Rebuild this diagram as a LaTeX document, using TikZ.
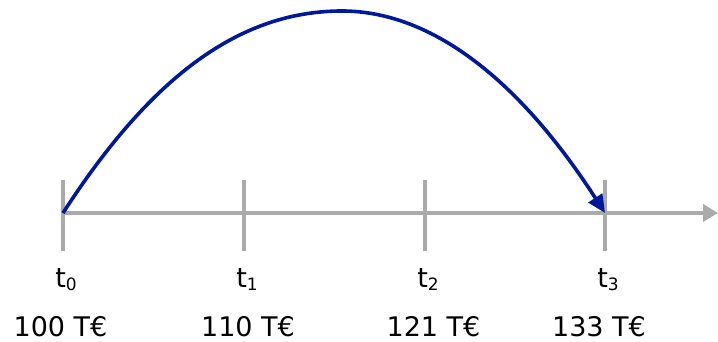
\documentclass[tikz,border=0pt]{standalone}
\usepackage{fontspec}
\setmainfont{DejaVu Sans}
\usetikzlibrary{arrows.meta}
\definecolor{axisgray}{HTML}{AAAAAA}
\definecolor{arcblue}{HTML}{00189A}
\tikzset{
  axisline/.style={axisgray, line width=4pt},
  tickline/.style={axisgray, line width=4pt},
  arcline/.style={arcblue, line width=3.6pt},
  lbl/.style={font=\fontsize{27}{30}\selectfont, inner sep=0pt, anchor=base},
}
\newcommand{\tsub}[1]{t\raisebox{-0.08em}{\fontsize{17}{19}\selectfont #1}}
\begin{document}
\begin{tikzpicture}[x=1pt,y=1pt]
\useasboundingbox (0,0) rectangle (718,342);
\coordinate (a0) at (63,129);
\coordinate (a1) at (244,129);
\coordinate (a2) at (425,129);
\coordinate (a3) at (605,129);
\coordinate (aend) at (718,129);
\coordinate (apex) at (342,331);
\draw[axisline, -{Triangle[length=15pt,width=17pt]}] (a0) -- (aend);
\foreach \i in {0,1,2,3} {
  \draw[tickline] ([yshift=33pt]a\i) -- ([yshift=-38pt]a\i);
}
\node[lbl] (t0) at (66,54) {\tsub{0}};
\node[lbl] (t1) at (247,54) {\tsub{1}};
\node[lbl] (t2) at (428,54) {\tsub{2}};
\node[lbl] (t3) at (608,54) {\tsub{3}};
\node[lbl] (v0) at (60.5,5) {100 T€};
\node[lbl] (v1) at (248,5) {110 T€};
\node[lbl] (v2) at (433.5,5) {121 T€};
\node[lbl] (v3) at (599,5) {133 T€};
\draw[arcline, -{Triangle[length=18pt,width=16pt]}] (a0) .. controls (153,268.5) and (242,331) .. (apex)
  .. controls (427,331) and (515,268.5) .. (a3);
\end{tikzpicture}
\end{document}
